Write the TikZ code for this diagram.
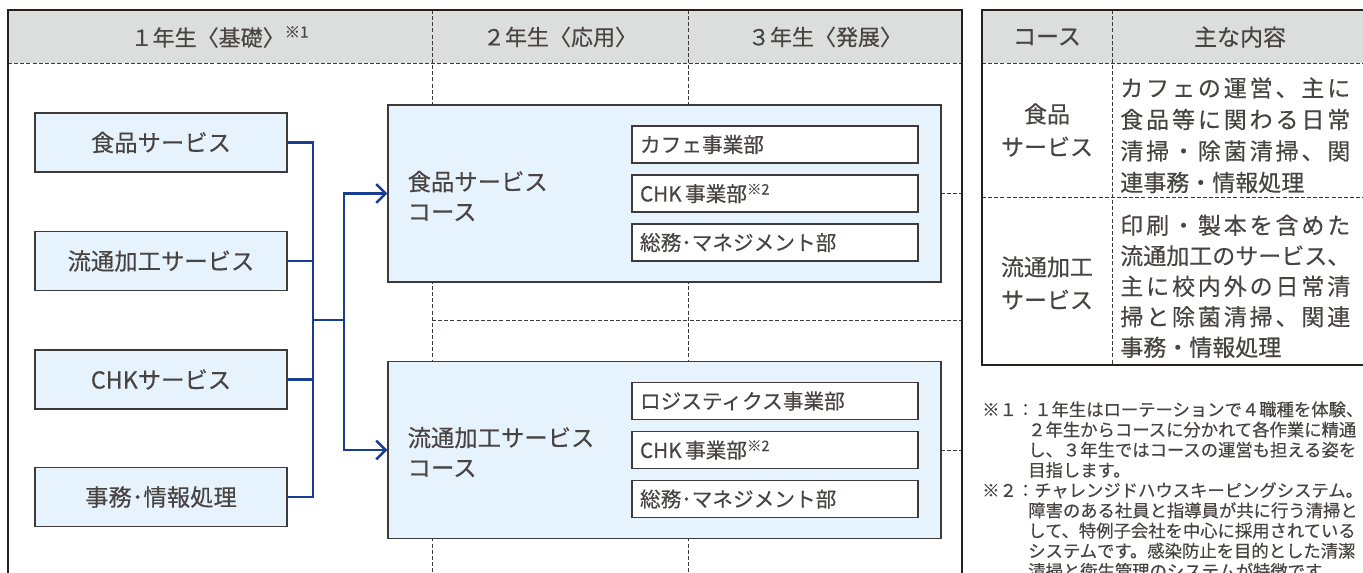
\documentclass[tikz,border=0pt]{standalone}
\usepackage{fontspec}
\setmainfont{Noto Sans CJK JP}[FakeBold=0.35]
\usetikzlibrary{arrows.meta}
\definecolor{InkGray}{RGB}{72,68,67}
\definecolor{FrameCol}{RGB}{40,30,28}
\definecolor{BoxLine}{RGB}{62,58,57}
\definecolor{PaleBlue}{RGB}{231,243,252}
\definecolor{HeadGray}{RGB}{220,221,221}
\definecolor{LinkBlue}{RGB}{24,61,145}

\tikzset{
  tableframe/.style={draw=FrameCol,line width=2pt},
  gridline/.style={draw=BoxLine,line width=0.7pt,dash pattern=on 3pt off 1.6pt},
  basebox/.style={draw=BoxLine,line width=1pt,fill=PaleBlue,minimum width=189pt,minimum height=44.25pt,font=\fontsize{17.5}{20}\selectfont},
  coursebox/.style={draw=BoxLine,line width=1pt,fill=PaleBlue,minimum width=414.75pt,minimum height=132.75pt},
  deptbox/.style={draw=BoxLine,line width=0.9pt,fill=white,text width=202.5pt,inner xsep=6pt,inner ysep=0pt,align=left,minimum height=27.75pt,font=\fontsize{15.5}{18}\selectfont},
  bluelink/.style={draw=LinkBlue,line width=1.9pt},
  headtext/.style={font=\fontsize{16.5}{19}\selectfont},
  rtext/.style={font=\fontsize{17.25}{24.75}\selectfont},
  notetext/.style={font=\fontsize{13}{15}\selectfont}
}

\begin{document}
\begin{tikzpicture}[x=0.75pt,y=-0.75pt,every node/.style={text=InkGray}]
  \useasboundingbox (0,0) rectangle (1363,573);
  \fill[white] (0,0) rectangle (1363,573);

  \fill[HeadGray] (8,10) rectangle (962,63);
  \fill[HeadGray] (982,10) rectangle (1375,63);

  \draw[gridline] (8,63) -- (962,63);
  \draw[gridline] (432,10) -- (432,600);
  \draw[gridline] (688,10) -- (688,600);
  \draw[gridline] (432,193.5) -- (962,193.5);
  \draw[gridline] (432,320) -- (962,320);
  \draw[gridline] (432,450) -- (962,450);
  \draw[gridline] (982,63) -- (1375,63);
  \draw[gridline] (1112,10) -- (1112,365);
  \draw[gridline] (982,197) -- (1375,197);

  \node[headtext] (year1) at (220,37) {１年生〈基礎〉\textsuperscript{※1}};
  \node[headtext] (year2) at (560,37) {２年生〈応用〉};
  \node[headtext] (year3) at (825,37) {３年生〈発展〉};

  \node[basebox] (food) at (161,142.5) {食品サービス};
  \node[basebox] (dist) at (161,261) {流通加工サービス};
  \node[basebox] (chk) at (161,379.5) {CHKサービス};
  \node[basebox] (office) at (161,497) {事務･情報処理};

  \node[coursebox] (foodcourse) at (664.5,193.5) {};
  \node[coursebox] (distcourse) at (664.5,450) {};

  \node[anchor=west,align=left,font=\fontsize{17.5}{22.5}\selectfont] (foodname) at (403,196) {食品サービス\\コース};
  \node[anchor=west,align=left,font=\fontsize{17.5}{22.5}\selectfont] (distname) at (403,452) {流通加工サービス\\コース};

  \node[deptbox] (cafe) at (775,144.5) {カフェ事業部};
  \node[deptbox] (chkA) at (775,193.5) {CHK\,事業部\textsuperscript{※2}};
  \node[deptbox] (admA) at (775,242.5) {総務･マネジメント部};
  \node[deptbox] (logi) at (775,401) {ロジスティクス事業部};
  \node[deptbox] (chkB) at (775,450) {CHK\,事業部\textsuperscript{※2}};
  \node[deptbox] (admB) at (775,499) {総務･マネジメント部};

  \coordinate (split) at (313,320);
  \coordinate (merge) at (344,320);
  \foreach \n in {food,dist,chk,office}
    \draw[bluelink] (\n.east) -| (split);
  \draw[bluelink] (split) -- (merge);
  \draw[bluelink,-{Straight Barb[length=7pt,width=14pt]}] (merge) |- (foodcourse.west);
  \draw[bluelink,-{Straight Barb[length=7pt,width=14pt]}] (merge) |- (distcourse.west);

  \draw[tableframe] (8,600) -- (8,10) -- (962,10) -- (962,600);
  \draw[tableframe] (1375,10) -- (982,10) -- (982,365) -- (1375,365);

  \node[rtext] (colcourse) at (1047,37) {コース};
  \node[rtext] (colcontent) at (1240,37) {主な内容};
  \node[rtext,align=center] (rowfood) at (1047,130) {食品\\サービス};
  \node[rtext,align=center] (rowdist) at (1047,283) {流通加工\\サービス};

  \foreach \txt/\ls [count=\i] in {カフェの運営、主に/12.5,
      食品等に関わる日常/12.5,
      清掃・除菌清掃、関/12.5,
      連事務・情報処理/0}
    \node[rtext,anchor=base west,inner sep=0pt] (foodline\i) at (1120,{96.7+31.5*(\i-1)}) {\addfontfeature{LetterSpace=\ls}\txt};
  \foreach \txt/\ls [count=\i] in {印刷・製本を含めた/12.5,
      流通加工のサービス、/0,
      主に校内外の日常清/12.5,
      掃と除菌清掃、関連/12.5,
      事務・情報処理/0}
    \node[rtext,anchor=base west,inner sep=0pt] (distline\i) at (1120,{234+30.5*(\i-1)}) {\addfontfeature{LetterSpace=\ls}\txt};

  \foreach \txt/\xx [count=\i] in {※１：１年生はローテーションで４職種を体験、/982,
      ２年生からコースに分かれて各作業に精通/1028,
      し、３年生ではコースの運営も担える姿を/1028,
      目指します。/1028,
      ※２：チャレンジドハウスキーピングシステム。/982,
      障害のある社員と指導員が共に行う清掃と/1028,
      して、特例子会社を中心に採用されている/1028,
      システムです。感染防止を目的とした清潔/1028,
      清掃と衛生管理のシステムが特徴です。/1028}
    \node[notetext,anchor=base west,inner sep=0pt] (note\i) at (\xx,{416+20.2*(\i-1)}) {\txt};
\end{tikzpicture}
\end{document}
